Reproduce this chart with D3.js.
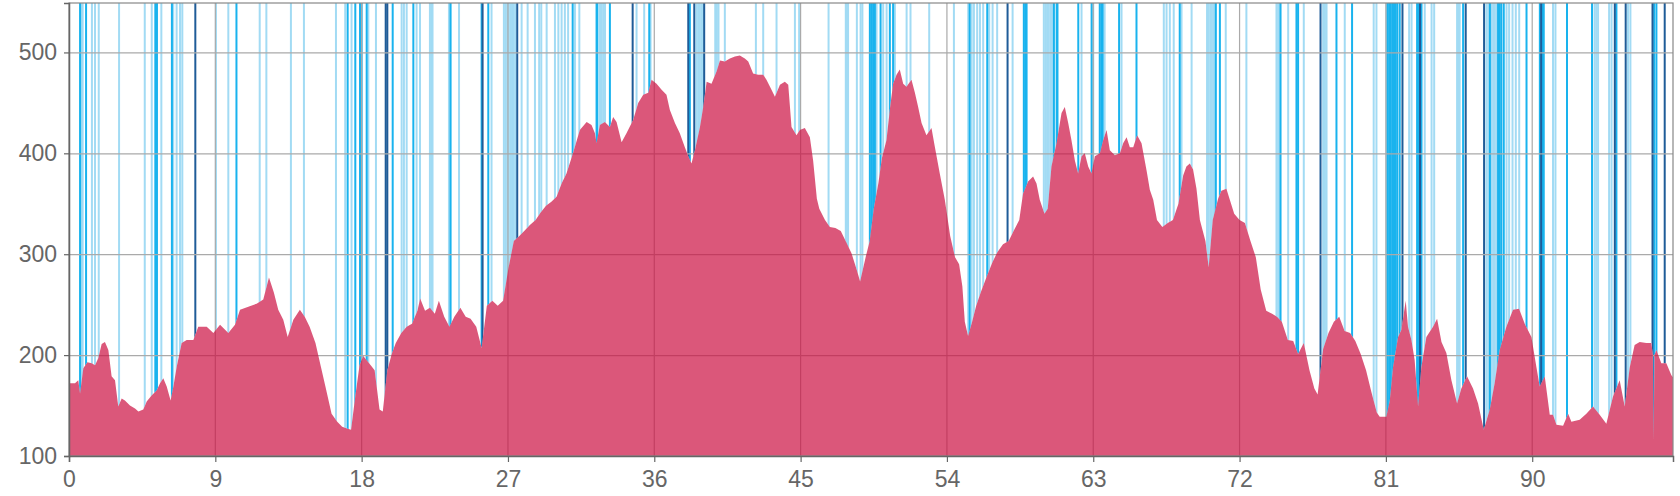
<!DOCTYPE html>
<html><head><meta charset="utf-8">
<script src="https://cdn.jsdelivr.net/npm/d3@7/dist/d3.min.js"></script>
<style>html,body{margin:0;padding:0;background:#fff;overflow:hidden}</style>
</head><body>
<svg id="chart" width="1680" height="496"></svg>
<script>
// distance along route (km) and elevation (m)
const dist = [0,0.37,0.57,0.68,0.88,1.13,1.4,1.6,1.8,2.01,2.21,2.42,2.62,2.83,3.03,3.24,3.44,3.75,4.06,4.27,4.57,4.78,5.08,5.39,5.6,5.8,6.01,6.25,6.42,6.62,6.93,7.24,7.65,7.95,8.47,8.88,9.29,9.8,10.21,10.52,11.03,11.54,11.95,12.3,12.6,12.87,13.18,13.45,13.8,14.2,14.5,14.8,15.16,15.5,15.8,16.15,16.5,16.8,17.14,17.35,17.6,17.87,18.1,18.46,18.8,19.1,19.3,19.58,19.85,20.1,20.44,20.77,21.1,21.43,21.6,21.9,22.2,22.5,22.75,23.08,23.4,23.7,24.07,24.4,24.7,25.05,25.38,25.7,26.04,26.37,26.7,27.03,27.36,27.7,28.0,28.35,28.7,29.0,29.34,29.67,29.99,30.3,30.6,31.0,31.42,31.84,32.14,32.35,32.45,32.65,32.96,33.27,33.47,33.68,33.99,34.29,34.7,35.01,35.32,35.63,35.83,36.14,36.45,36.75,36.96,37.27,37.57,37.88,38.09,38.29,38.5,38.81,39.01,39.22,39.52,39.83,40.04,40.34,40.65,40.96,41.26,41.57,41.78,42.08,42.39,42.7,42.9,43.21,43.42,43.73,44.03,44.24,44.44,44.75,44.95,45.26,45.57,45.77,46.0,46.15,46.5,46.8,47.14,47.47,47.8,48.13,48.46,48.66,49.0,49.25,49.5,49.78,50.0,50.28,50.5,50.69,50.9,51.1,51.31,51.51,51.82,52.03,52.23,52.44,52.74,53.05,53.25,53.56,53.87,54.2,54.5,54.75,54.95,55.1,55.3,55.55,55.8,56.1,56.45,56.8,57.1,57.45,57.8,58.1,58.45,58.68,58.99,59.3,59.51,59.71,60.0,60.2,60.43,60.74,61.05,61.25,61.46,61.66,61.87,62.07,62.28,62.48,62.69,62.89,63.1,63.41,63.61,63.82,64.02,64.33,64.64,64.84,65.05,65.25,65.46,65.7,65.97,66.28,66.48,66.69,66.92,67.25,67.58,67.9,68.24,68.53,68.73,68.94,69.14,69.35,69.56,69.9,70.1,70.35,70.68,70.88,71.19,71.4,71.67,72.0,72.33,72.67,73.0,73.3,73.64,74.0,74.3,74.6,74.97,75.3,75.6,75.95,76.3,76.6,76.8,77.14,77.47,77.8,78.13,78.46,78.8,79.12,79.45,79.78,80.1,80.44,80.62,81.03,81.24,81.44,81.75,81.95,82.22,82.36,82.57,82.77,82.98,83.18,83.49,83.9,84.15,84.42,84.72,85.03,85.38,85.64,85.99,86.36,86.67,87.02,87.39,87.69,88.0,88.41,88.82,89.19,89.54,89.95,90.26,90.46,90.77,91.08,91.28,91.49,91.9,92.21,92.41,92.92,93.33,93.74,94.15,94.56,94.97,95.38,95.69,96.0,96.3,96.61,97.02,97.33,97.42,97.47,97.52,97.64,97.94,98.25,98.56,98.66];
const elev = [172,172,175,162,187,193,192,190,197,211,213,205,179,175,149,157,155,150,147,144,146,154,160,165,172,177,169,155,169,188,212,215,215,228,228,222,230,222,230,245,248,251,255,277,262,245,235,218,235,245,238,228,212,188,167,142,134,129,127,126,158,190,199,192,185,146,144,185,201,212,222,228,231,244,256,244,247,241,254,238,228,238,247,238,236,228,207,249,254,249,254,286,313,318,323,329,334,341,348,352,357,370,380,400,423,431,428,420,410,428,431,426,436,431,411,420,433,450,458,460,473,469,463,458,443,430,420,406,397,390,403,426,446,471,469,481,492,491,494,496,497,494,491,479,478,478,473,463,456,468,471,468,426,418,423,425,416,393,355,345,334,327,326,323,312,301,284,273,297,313,345,370,395,413,445,469,478,483,469,466,473,460,446,430,418,425,407,380,354,318,297,290,268,233,219,233,249,263,278,292,302,310,313,323,334,360,372,377,370,354,340,345,387,410,440,446,430,413,393,380,397,400,387,380,397,400,413,423,403,398,400,410,416,406,406,418,410,383,364,354,334,327,331,334,350,378,387,390,384,365,334,313,287,334,355,363,365,354,340,334,331,313,297,265,244,241,238,233,215,214,201,212,185,167,161,206,222,233,238,224,222,214,201,185,164,143,139,139,155,188,218,225,254,228,215,195,149,188,218,228,236,213,202,175,152,167,179,167,152,126,146,172,205,228,245,246,231,218,188,169,179,141,141,131,130,142,134,136,142,149,141,132,159,175,149,188,210,213,212,212,200,116,200,205,192,192,180,178];

// marker positions (km) and their level (0 light, 1 medium, 2 dark)
const markKm = [0.68,0.78,0.84,1.05,1.41,1.6,1.83,3.08,4.66,5.09,5.31,5.41,5.68,6.33,6.41,6.62,6.83,6.97,7.77,9.04,9.8,10.3,11.73,12.14,13.65,
14.45,16.42,16.99,17.14,17.38,17.61,17.9,18.0,18.31,18.41,18.88,19.48,19.58,19.91,20.46,20.6,20.77,21.18,21.38,21.59,22.2,22.28,22.36,23.37,23.44,23.47,23.99,25.38,25.44,25.79,25.99,26.75,26.85,26.95,27.05,27.15,27.25,27.35,27.45,27.57,27.84,28.21,28.66,28.92,29.05,29.38,29.89,30.1,30.3,30.5,30.7,30.98,31.12,31.39,32.45,32.5,
32.66,32.76,32.86,32.97,33.27,34.67,34.91,35.38,35.69,35.77,38.09,38.19,38.46,38.6,38.7,38.8,38.9,39.0,39.07,39.75,39.85,39.95,40.34,42.25,42.7,43.52,44.65,44.91,46.72,47.78,47.85,47.92,48.46,48.69,48.8,49.26,49.36,49.46,49.57,49.67,49.92,50.08,50.29,50.49,50.69,50.8,
51.52,51.76,52.91,54.43,55.31,55.4,55.52,55.66,55.86,56.03,56.23,56.48,56.6,56.81,57.09,57.73,58.04,58.73,58.82,58.9,59.96,60.06,60.16,60.26,60.36,60.46,60.58,60.75,60.8,62.08,62.28,62.9,63.0,63.4,63.5,63.58,63.7,64.59,64.74,65.66,67.34,67.51,67.71,67.95,68.32,68.43,69.05,
70.0,70.1,70.2,70.3,70.4,70.48,70.54,70.79,71.15,72.42,74.27,74.37,74.47,74.52,74.99,75.5,75.6,75.95,76.98,77.14,77.25,77.35,77.96,78.47,78.92,80.25,80.42,
81.04,81.1,81.2,81.3,81.4,81.5,81.6,81.7,81.85,82.02,82.43,82.58,82.92,83.0,83.1,83.19,83.39,83.81,83.97,85.38,85.46,85.54,85.75,85.91,87.04,87.19,87.3,87.4,87.5,87.6,87.7,87.8,87.9,88.0,88.1,88.25,88.42,88.58,88.79,88.99,89.2,89.65,90.47,90.55,90.63,90.71,91.28,91.43,92.14,93.68,93.84,93.94,94.05,94.73,94.88,95.08,95.18,95.75,95.89,96.04,97.4,97.5,97.64,98.15];
const markLevel = [1,0,0,1,0,0,0,0,0,0,1,1,0,1,0,0,0,0,2,0,0,1,0,0,0,
0,0,0,1,0,1,1,1,1,0,0,2,2,1,0,0,0,1,0,0,0,0,0,0,0,1,0,1,2,1,0,0,0,0,0,0,0,0,0,2,0,0,0,0,0,0,0,0,0,0,0,1,0,0,1,1,
0,0,0,0,1,2,0,0,1,0,2,1,2,0,0,0,0,0,2,0,0,0,0,0,0,0,0,0,0,0,0,0,0,0,0,1,1,1,1,0,1,0,0,1,1,0,
0,0,0,0,0,1,0,0,0,0,0,1,0,0,0,2,0,1,1,1,0,0,0,0,0,0,1,1,1,1,0,1,0,1,1,1,0,1,0,1,0,0,0,0,1,0,0,
0,0,0,0,0,0,1,1,0,0,0,0,0,1,0,1,1,0,2,0,0,0,1,0,1,0,0,
0,1,1,1,1,1,1,1,1,2,0,0,1,1,2,1,0,0,0,0,0,0,1,2,2,0,0,1,0,0,0,0,1,1,1,1,0,0,0,0,0,1,1,2,1,1,0,0,1,1,0,0,0,0,0,2,1,2,0,0,2,1,1,2];

const xTicks = [0,9,18,27,36,45,54,63,72,81,90];
const yTicks = [100,200,300,400,500];

const W = 1680, H = 496;
const m = {left:69, top:3, right:7, bottom:40};
const svg = d3.select('#chart');
const x = d3.scaleLinear().domain([0, 98.66]).range([m.left, W - m.right]);
const y = d3.scaleLinear().domain([100, 549]).range([H - m.bottom, m.top]);
const pts = dist.map((d,i)=>[d, elev[i]]);

const defs = svg.append('defs');
// region above the profile, used to keep the markers out of the area
defs.append('clipPath').attr('id','above')
  .append('path')
  .attr('d', d3.area().x(d=>x(d[0])).y0(m.top).y1(d=>y(d[1]))(pts));

const colors = ['#a2dbf4', '#19b3ee', '#1f5c98'];
const order = d3.range(markKm.length).sort((a,b)=>markLevel[a]-markLevel[b]);
svg.append('g').attr('clip-path','url(#above)')
  .selectAll('line').data(order).join('line')
  .attr('x1', i=>x(markKm[i])).attr('x2', i=>x(markKm[i]))
  .attr('y1', m.top).attr('y2', H - m.bottom)
  .attr('stroke', i=>colors[markLevel[i]])
  .attr('stroke-width', 2);

// grid
const grid = svg.append('g').attr('stroke', '#aaaaaa').attr('stroke-width', 1.2);
grid.selectAll('.h').data(yTicks.slice(1)).join('line')
  .attr('x1', m.left).attr('x2', W - m.right)
  .attr('y1', d=>y(d)+0.5).attr('y2', d=>y(d)+0.5);
grid.selectAll('.v').data(xTicks.slice(1)).join('line')
  .attr('y1', m.top).attr('y2', H - m.bottom)
  .attr('x1', d=>x(d)).attr('x2', d=>x(d));

// area
svg.append('path').datum(pts)
  .attr('d', d3.area().x(d=>x(d[0])).y0(y(100)).y1(d=>y(d[1])))
  .attr('fill', 'rgb(204,16,66)').attr('fill-opacity', 0.7);

// frame
svg.append('rect').attr('x', m.left).attr('y', m.top)
  .attr('width', W - m.left - m.right).attr('height', H - m.top - m.bottom)
  .attr('fill', 'none').attr('stroke', '#888').attr('stroke-width', 1.2);

// axes
const fontFam = '"Liberation Sans", Arial, sans-serif';
const xa = svg.append('g').attr('transform', `translate(0,${H - m.bottom})`)
  .call(d3.axisBottom(x).tickValues(xTicks).tickSize(6).tickPadding(9).tickFormat(d3.format('d')));
const ya = svg.append('g').attr('transform', `translate(${m.left},0)`)
  .call(d3.axisLeft(y).tickValues(yTicks).tickSize(5).tickPadding(7).tickFormat(d3.format('d')));
[xa, ya].forEach(a => {
  a.select('.domain').attr('stroke', '#666').attr('stroke-width', 1.5);
  a.selectAll('.tick line').attr('stroke', '#666').attr('stroke-width', 1.2);
  a.selectAll('.tick text').attr('fill', '#666').attr('font-size', 23).attr('font-family', fontFam);
});
</script>
</body></html>
